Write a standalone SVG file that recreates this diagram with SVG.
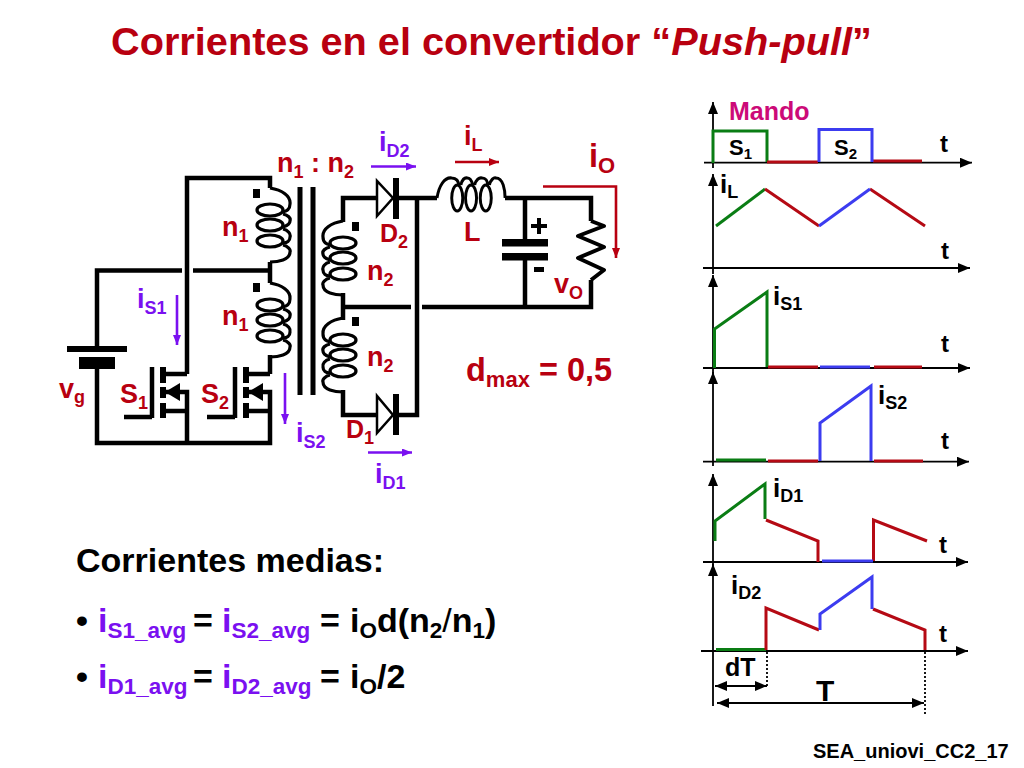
<svg xmlns="http://www.w3.org/2000/svg" width="1024" height="768" viewBox="0 0 1024 768">
<style>
text{font-family:"Liberation Sans",Arial,sans-serif;font-weight:700}
.r{fill:#b80010}.p{fill:#7a10f0}.k{fill:#000}
.m{font-size:27px}.s{font-size:18px}.c{font-size:32.500px}
.w{fill:none;stroke:#000;stroke-width:4.5;stroke-linejoin:miter}
.coil{fill:none;stroke:#000;stroke-width:3.2}
.ax{fill:none;stroke:#000;stroke-width:1.8}
.g{fill:none;stroke:#0a7d14;stroke-width:3}
.d{fill:none;stroke:#b50a14;stroke-width:3}
.b{fill:none;stroke:#3c3cf0;stroke-width:3}
.pa{fill:none;stroke:#7a10f0;stroke-width:2.6}
.ra{fill:none;stroke:#b80010;stroke-width:2.6}
</style>
<defs>
<marker id="ka" markerUnits="userSpaceOnUse" markerWidth="14" markerHeight="12" refX="12" refY="5" orient="auto"><path d="M0 0L12 5L0 10z" fill="#000"/></marker>
<marker id="ks" markerUnits="userSpaceOnUse" markerWidth="14" markerHeight="12" refX="0" refY="5" orient="auto"><path d="M12 0L0 5L12 10z" fill="#000"/></marker>
<marker id="pm" markerUnits="userSpaceOnUse" markerWidth="12" markerHeight="10" refX="10" refY="4" orient="auto"><path d="M0 0L10 4L0 8z" fill="#7a10f0"/></marker>
<marker id="rm" markerUnits="userSpaceOnUse" markerWidth="12" markerHeight="10" refX="10" refY="4" orient="auto"><path d="M0 0L10 4L0 8z" fill="#b80010"/></marker>
<g id="coil">
<path class="coil" d="M0 0C12 2 21 8 20 16C20 22 16 23 13 24M13 26C18 27 21 30 20 33C20 37 16 38 13 39M13 41C18 42 21 46 20 49C20 53 17 55 13 55M13 57C18 58 21 62 20 64C20 72 8 74 0 74"/>
<ellipse class="coil" cx="0" cy="22" rx="13" ry="6"/><ellipse class="coil" cx="0" cy="37" rx="13" ry="6"/><ellipse class="coil" cx="0" cy="53" rx="13" ry="6"/>
</g>
<g id="fet">
<path class="w" d="M0 0V51M-28 50H0"/>
<rect x="8" y="0" width="6" height="16"/><rect x="8" y="20" width="6" height="11"/><rect x="8" y="36" width="6" height="15"/>
<path class="w" d="M14 7H35M14 44H35M14 25H35V44"/>
<path d="M13 25L28 16V34z"/>
</g>
</defs>
<g id="title"><text x="111" y="55" class="r" font-size="39.700">Corrientes en el convertidor “<tspan font-style="italic">Push-pull</tspan>”</text></g>

<g id="connectors">
<path class="w" d="M187 374V178H270V188M270 262V283M270 355V374M97 349V270.500H182M193 270.500H270M97 368V443H270V411M187 411V443M343 222V198H377M396 198H437M505 198H591V221M417 198V415H396M377 415H343V390M343 293V320M343 307H411M422 307H591V280M525 198V240M525 260V307"/>
<path class="ax" d="M713 168V102" marker-end="url(#ka)"/>
<path class="ax" d="M704 162.700H972" marker-end="url(#ka)"/>
<path class="ax" d="M713 274V174" marker-end="url(#ka)"/>
<path class="ax" d="M703 268H970" marker-end="url(#ka)"/>
<path class="ax" d="M713 374V275" marker-end="url(#ka)"/>
<path class="ax" d="M703 368H970" marker-end="url(#ka)"/>
<path class="ax" d="M713 466V372" marker-end="url(#ka)"/>
<path class="ax" d="M703 461.700H969" marker-end="url(#ka)"/>
<path class="ax" d="M713 568V474" marker-end="url(#ka)"/>
<path class="ax" d="M703 562H968" marker-end="url(#ka)"/>
<path class="ax" d="M713 706V564" marker-end="url(#ka)"/>
<path class="ax" d="M701 651H968" marker-end="url(#ka)"/>
<path class="ax" d="M767 652V686M925 652V716" stroke-dasharray="2 2"/>
<path class="ax" d="M715 686H767" marker-start="url(#ks)" marker-end="url(#ka)"/>
<path class="ax" d="M717 703H924" marker-start="url(#ks)" marker-end="url(#ka)"/>
<path class="pa" d="M177 295V345" marker-end="url(#pm)"/>
<path class="pa" d="M285 373V424" marker-end="url(#pm)"/>
<path class="pa" d="M371 166.500H416" marker-end="url(#pm)"/>
<path class="pa" d="M368 452.500H412" marker-end="url(#pm)"/>
<path class="ra" d="M455 162H499" marker-end="url(#rm)"/>
<path class="ra" d="M543 186.500H616V258" marker-end="url(#rm)"/>
</g>

<g id="battery"><rect x="67" y="346" width="60" height="6"/><rect x="79" y="357" width="36" height="12"/><text x="59" y="398" class="r m">v<tspan class="s" dy="5">g</tspan></text></g>
<g id="S1"><use href="#fet" x="152" y="367"/><text x="120" y="403" class="r m">S<tspan class="s" dy="6">1</tspan></text></g>
<g id="S2"><use href="#fet" x="235" y="367"/><text x="201" y="403" class="r m">S<tspan class="s" dy="6">2</tspan></text></g>
<g id="primary1"><use href="#coil" x="270" y="188"/><rect x="253" y="189" width="7" height="9"/><text x="222" y="236" class="r m">n<tspan class="s" dy="6">1</tspan></text></g>
<g id="primary2"><use href="#coil" x="270" y="283"/><rect x="253" y="283" width="7" height="9"/><text x="222" y="325" class="r m">n<tspan class="s" dy="6">1</tspan></text></g>
<g id="core"><rect x="297.500" y="187" width="5" height="208"/><rect x="310.500" y="187" width="5" height="208"/><text x="277" y="172" class="r m">n<tspan class="s" dy="6">1</tspan><tspan dy="-6"> : n</tspan><tspan class="s" dy="6">2</tspan></text></g>
<g id="secondary1"><use href="#coil" transform="translate(343 221) scale(-1 1)"/><rect x="352" y="222" width="7" height="9"/><text x="367" y="280" class="r m">n<tspan class="s" dy="6">2</tspan></text></g>
<g id="secondary2"><use href="#coil" transform="translate(343 318) scale(-1 1)"/><rect x="352" y="317" width="7" height="9"/><text x="367" y="366" class="r m">n<tspan class="s" dy="6">2</tspan></text></g>
<g id="D2"><path d="M377 181V216L393 198z" fill="#fff" stroke="#000" stroke-width="2.5"/><rect x="393" y="178" width="6" height="41"/><text x="380" y="242" class="r" font-size="25">D<tspan class="s" dy="6">2</tspan></text></g>
<g id="D1"><path d="M377 396V433L393 415z" fill="#fff" stroke="#000" stroke-width="2.5"/><rect x="393" y="394" width="6" height="41"/><text x="346" y="438" class="r" font-size="25">D<tspan class="s" dy="6">1</tspan></text></g>
<g id="L"><use href="#coil" transform="translate(437 198) rotate(-90) scale(1 .92)"/><text x="464" y="241" class="r m">L</text></g>
<g id="C"><rect x="502" y="239" width="46" height="7.500"/><rect x="502" y="253" width="46" height="7.500"/><rect x="531" y="224" width="16" height="4"/><rect x="537" y="218" width="4" height="16"/><rect x="534" y="267" width="10" height="5"/></g>
<g id="R"><path d="M591 221L604 226L578 236L604 247L578 258L604 270L591 280" fill="none" stroke="#000" stroke-width="4" stroke-linejoin="round"/><text x="554" y="293" class="r m">v<tspan class="s" dy="6">O</tspan></text></g>

<g id="labels">
<text x="137" y="308" class="p m">i<tspan class="s" dy="6">S1</tspan></text>
<text x="296" y="442" class="p m">i<tspan class="s" dy="6">S2</tspan></text>
<text x="379" y="151" class="p m">i<tspan class="s" dy="6">D2</tspan></text>
<text x="375" y="483" class="p m">i<tspan class="s" dy="6">D1</tspan></text>
<text x="464" y="145" class="r m">i<tspan class="s" dy="6">L</tspan></text>
<text x="589" y="167" class="r c">i<tspan font-size="22" dy="6">O</tspan></text>
<text x="466" y="381" class="r c">d<tspan font-size="22" dy="6">max</tspan><tspan dy="-6"> = 0,5</tspan></text>
</g>

<g id="waveforms">
<path class="g" d="M713 163V131H767V162"/><path class="d" d="M767 162H818M873 161H922"/><path class="b" d="M819 162V129.500H872V162"/>
<path class="g" d="M716 226L765 189"/><path class="d" d="M765 189L819 226M870 189L925 226"/><path class="b" d="M819 226L870 189"/>
<path class="g" d="M714.500 368V329L767 292V367"/><path class="d" d="M768 367H818M874 367H922"/><path class="b" d="M820 367H870"/>
<path class="g" d="M716 460H766"/><path class="d" d="M768 461H818M874 461H923"/><path class="b" d="M820 461V423L871 386V461"/>
<path class="g" d="M715 541V521L765 484V519"/><path class="d" d="M766 520L818 541V562M873.500 561V520L927 541"/><path class="b" d="M822 561H873"/>
<path class="g" d="M716 649.500H766" stroke-width="2"/><path class="d" d="M766 650V608L819 630M873 609L925 630V650"/><path class="b" d="M820 630V614L872 577V609"/>
</g>

<g id="timing-labels">
<text x="729" y="120" font-size="25" fill="#cc0a78">Mando</text>
<text x="729" y="155" class="k" font-size="22">S<tspan font-size="15" dy="4">1</tspan></text>
<text x="834" y="155" class="k" font-size="22">S<tspan font-size="15" dy="4">2</tspan></text>
<text x="940" y="152" class="k" font-size="24">t</text><text x="941" y="259" class="k" font-size="24">t</text><text x="941" y="352" class="k" font-size="24">t</text><text x="941" y="449" class="k" font-size="24">t</text><text x="939" y="553" class="k" font-size="24">t</text><text x="939" y="642" class="k" font-size="24">t</text>
<text x="720" y="193" class="k" font-size="26">i<tspan font-size="18" dy="5">L</tspan></text>
<text x="773" y="305" class="k" font-size="26">i<tspan font-size="18" dy="5">S1</tspan></text>
<text x="878" y="404" class="k" font-size="26">i<tspan font-size="18" dy="5">S2</tspan></text>
<text x="773" y="497" class="k" font-size="26">i<tspan font-size="18" dy="5">D1</tspan></text>
<text x="731" y="594" class="k" font-size="26">i<tspan font-size="18" dy="5">D2</tspan></text>
<text x="725" y="676" class="k" font-size="25">dT</text>
<text x="816" y="701" class="k" font-size="30">T</text>
</g>

<g id="averages">
<text x="76" y="572" class="k" font-size="34">Corrientes medias:</text>
<text x="76" y="632" class="k" font-size="34">•<tspan x="98" class="p">i<tspan font-size="22.500" dy="6">S1_avg</tspan></tspan><tspan x="193" dy="-6">=</tspan><tspan x="222" class="p">i<tspan font-size="22.500" dy="6">S2_avg</tspan></tspan><tspan x="320" dy="-6">=</tspan><tspan x="350">i</tspan><tspan font-size="22.500" dy="6">O</tspan><tspan dy="-6">d(n</tspan><tspan font-size="22.500" dy="6">2</tspan><tspan dy="-6" font-weight="400">/</tspan><tspan>n</tspan><tspan font-size="22.500" dy="6">1</tspan><tspan dy="-6">)</tspan></text>
<text x="76" y="688" class="k" font-size="34">•<tspan x="98" class="p">i<tspan font-size="22.500" dy="6">D1_avg</tspan></tspan><tspan x="193" dy="-6">=</tspan><tspan x="222" class="p">i<tspan font-size="22.500" dy="6">D2_avg</tspan></tspan><tspan x="320" dy="-6">=</tspan><tspan x="350">i</tspan><tspan font-size="22.500" dy="6">O</tspan><tspan dy="-6">/2</tspan></text>
</g>
<g id="footer"><text x="813" y="758" class="k" font-size="20">SEA_uniovi_CC2_17</text></g>
</svg>
